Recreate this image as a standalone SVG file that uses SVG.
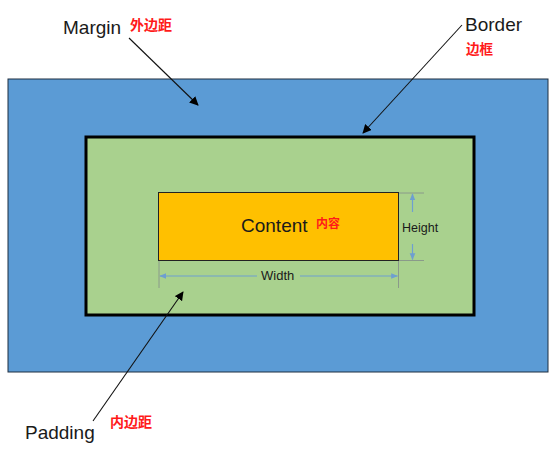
<svg xmlns="http://www.w3.org/2000/svg" width="556" height="453" viewBox="0 0 556 453">
<defs>
<marker id="ah" viewBox="0 0 10 10" refX="9" refY="5" markerWidth="9" markerHeight="9" markerUnits="userSpaceOnUse" orient="auto">
<path d="M0,0 L10,5 L0,10 z" fill="#000"/>
</marker>
<marker id="dh" viewBox="0 0 10 10" refX="9" refY="5" markerWidth="7" markerHeight="7" markerUnits="userSpaceOnUse" orient="auto">
<path d="M0,1 L10,5 L0,9 z" fill="#6E9FD0"/>
</marker>
<style>
.en{font-family:"Liberation Sans",Arial,sans-serif;fill:#1a1a1a}
.cn{font-family:"Noto Sans CJK SC",sans-serif;font-weight:bold;fill:#FF1A1A}
.lead{stroke:#111;stroke-width:1.1;fill:none;marker-end:url(#ah)}
.ext{stroke:#8A9A8A;stroke-width:1;fill:none}
.dim{stroke:#6E9FD0;stroke-width:1.2;fill:none;marker-end:url(#dh)}
</style>
</defs>
<rect width="556" height="453" fill="#fff"/>
<g id="margin">
<rect x="8" y="79" width="540" height="293" fill="#5B9BD5" stroke="#1f2f40" stroke-width="1"/>
</g>
<g id="border">
<rect x="86" y="137" width="388" height="178" fill="#A9D18E" stroke="#000" stroke-width="3"/>
</g>
<g id="content">
<rect x="158.5" y="192.5" width="240" height="68" fill="#FFC000" stroke="#222" stroke-width="1"/>
<text class="en" x="241" y="232" font-size="19">Content</text>
<text class="cn" x="316" y="228" font-size="12" fill="#E8200A">内容</text>
</g>
<g id="height">
<line class="ext" x1="399" y1="193" x2="424" y2="193"/>
<line class="ext" x1="399" y1="260.5" x2="424" y2="260.5"/>
<line class="dim" x1="412.5" y1="212" x2="412.5" y2="194"/>
<line class="dim" x1="412.5" y1="244" x2="412.5" y2="259.5"/>
<text class="en" x="402" y="232" font-size="12.5">Height</text>
</g>
<g id="width">
<line class="ext" x1="159" y1="261" x2="159" y2="288"/>
<line class="ext" x1="398.5" y1="261" x2="398.5" y2="288"/>
<line class="dim" x1="257" y1="276" x2="160" y2="276"/>
<line class="dim" x1="300" y1="276" x2="397.5" y2="276"/>
<text class="en" x="261" y="280" font-size="13">Width</text>
</g>
<g id="labels">
<text class="en" x="63" y="34" font-size="19">Margin</text>
<text class="cn" x="130" y="30" font-size="14">外边距</text>
<text class="en" x="465" y="31" font-size="19">Border</text>
<text class="cn" x="466" y="54" font-size="13.5">边框</text>
<text class="en" x="25" y="439" font-size="19">Padding</text>
<text class="cn" x="110" y="427" font-size="14">内边距</text>
</g>
<g id="connectors">
<line class="lead" x1="129" y1="38" x2="198" y2="105"/>
<line class="lead" x1="462" y1="25" x2="363" y2="133"/>
<line class="lead" x1="93" y1="421" x2="183" y2="292"/>
</g>
</svg>
